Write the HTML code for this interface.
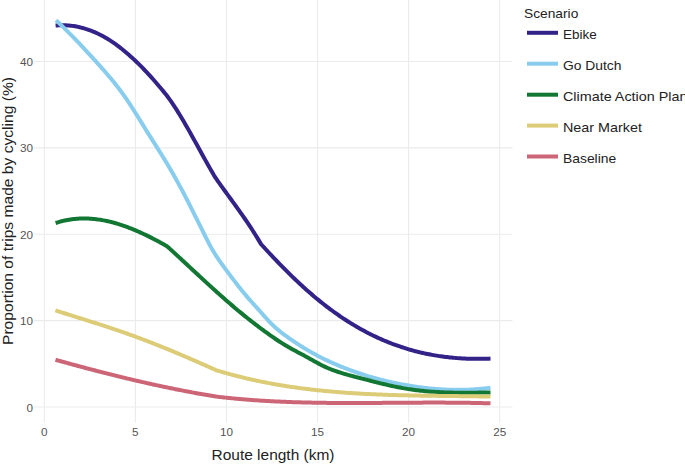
<!DOCTYPE html>
<html><head><meta charset="utf-8"><style>
html,body{margin:0;padding:0;background:#fff;}
body{width:685px;height:464px;overflow:hidden;}
svg{display:block;font-family:"Liberation Sans",sans-serif;}
</style></head><body>
<svg width="685" height="464" viewBox="0 0 685 464">
<rect width="685" height="464" fill="#fff"/>
<g stroke="#ebebeb" stroke-width="1.07" fill="none">
<line x1="44.30" y1="0.00" x2="44.30" y2="422.60"/>
<line x1="135.38" y1="0.00" x2="135.38" y2="422.60"/>
<line x1="226.46" y1="0.00" x2="226.46" y2="422.60"/>
<line x1="317.54" y1="0.00" x2="317.54" y2="422.60"/>
<line x1="408.62" y1="0.00" x2="408.62" y2="422.60"/>
<line x1="499.70" y1="0.00" x2="499.70" y2="422.60"/>
<line x1="34.00" y1="407.00" x2="512.50" y2="407.00"/>
<line x1="34.00" y1="320.62" x2="512.50" y2="320.62"/>
<line x1="34.00" y1="234.25" x2="512.50" y2="234.25"/>
<line x1="34.00" y1="147.88" x2="512.50" y2="147.88"/>
<line x1="34.00" y1="61.50" x2="512.50" y2="61.50"/>
</g>
<g fill="none" stroke-width="4.0" stroke-linejoin="round" stroke-linecap="butt">
<path d="M55.60,25.58 L57.10,25.46 L58.60,25.37 L60.10,25.31 L61.60,25.27 L63.10,25.27 L64.60,25.30 L66.10,25.35 L67.60,25.44 L69.10,25.56 L70.60,25.70 L72.10,25.88 L73.60,26.08 L75.10,26.32 L76.60,26.59 L78.10,26.88 L79.60,27.21 L81.10,27.57 L82.60,27.95 L84.10,28.37 L85.60,28.82 L87.10,29.30 L88.60,29.81 L90.10,30.35 L91.60,30.92 L93.10,31.52 L94.60,32.15 L96.10,32.81 L97.60,33.51 L99.10,34.23 L100.60,34.99 L102.10,35.77 L103.60,36.59 L105.10,37.44 L106.60,38.32 L108.10,39.23 L109.60,40.17 L111.10,41.15 L112.60,42.15 L114.10,43.18 L115.60,44.24 L117.10,45.33 L118.60,46.45 L120.10,47.60 L121.60,48.77 L123.10,49.97 L124.60,51.20 L126.10,52.46 L127.60,53.74 L129.10,55.05 L130.60,56.39 L132.10,57.75 L133.60,59.13 L135.10,60.54 L136.60,61.98 L138.10,63.44 L139.60,64.92 L141.10,66.43 L142.60,67.95 L144.10,69.51 L145.60,71.08 L147.10,72.68 L148.60,74.30 L150.10,75.94 L151.60,77.60 L153.10,79.28 L154.60,80.98 L156.10,82.70 L157.60,84.45 L159.10,86.21 L160.60,87.99 L162.10,89.79 L163.60,91.61 L165.10,93.44 L166.20,94.80 L167.70,96.77 L169.20,98.81 L170.70,100.92 L172.20,103.09 L173.70,105.32 L175.20,107.61 L176.70,109.95 L178.20,112.33 L179.70,114.76 L181.20,117.24 L182.70,119.75 L184.20,122.30 L185.70,124.89 L187.20,127.50 L188.70,130.13 L190.20,132.79 L191.70,135.47 L193.20,138.16 L194.70,140.87 L196.20,143.59 L197.70,146.31 L199.20,149.03 L200.70,151.75 L202.20,154.47 L203.70,157.18 L205.20,159.88 L206.70,162.56 L208.20,165.23 L209.70,167.87 L211.20,170.49 L212.70,173.09 L214.20,175.65 L215.00,177.00 L216.50,179.16 L218.00,181.30 L219.50,183.43 L221.00,185.54 L222.50,187.63 L224.00,189.71 L225.50,191.79 L227.00,193.85 L228.50,195.92 L230.00,197.98 L231.50,200.04 L233.00,202.10 L234.50,204.17 L236.00,206.25 L237.50,208.34 L239.00,210.44 L240.50,212.55 L242.00,214.68 L243.50,216.83 L245.00,219.00 L246.50,221.19 L248.00,223.42 L249.50,225.66 L251.00,227.94 L252.50,230.26 L254.00,232.61 L255.50,234.99 L257.00,237.42 L258.50,239.89 L260.00,242.40 L261.00,244.10 L262.50,245.74 L264.00,247.38 L265.50,249.01 L267.00,250.63 L268.50,252.25 L270.00,253.85 L271.50,255.45 L273.00,257.04 L274.50,258.62 L276.00,260.19 L277.50,261.75 L279.00,263.30 L280.50,264.84 L282.00,266.38 L283.50,267.90 L285.00,269.41 L286.50,270.91 L288.00,272.40 L289.50,273.88 L291.00,275.35 L292.50,276.81 L294.00,278.25 L295.50,279.69 L297.00,281.11 L298.50,282.52 L300.00,283.92 L301.50,285.31 L303.00,286.68 L304.50,288.04 L306.00,289.39 L307.50,290.72 L309.00,292.04 L310.50,293.35 L312.00,294.64 L313.50,295.92 L315.00,297.19 L316.50,298.44 L318.00,299.67 L319.50,300.90 L321.00,302.10 L322.50,303.30 L324.00,304.48 L325.50,305.64 L327.00,306.79 L328.50,307.93 L330.00,309.06 L331.50,310.16 L333.00,311.26 L334.50,312.34 L336.00,313.41 L337.50,314.46 L339.00,315.50 L340.50,316.53 L342.00,317.54 L343.50,318.54 L345.00,319.53 L346.50,320.50 L348.00,321.46 L349.50,322.40 L351.00,323.33 L352.50,324.25 L354.00,325.15 L355.50,326.04 L357.00,326.92 L358.50,327.79 L360.00,328.64 L361.50,329.47 L363.00,330.30 L364.50,331.11 L366.00,331.91 L367.50,332.69 L369.00,333.46 L370.50,334.22 L372.00,334.97 L373.50,335.70 L375.00,336.42 L376.50,337.12 L378.00,337.82 L379.50,338.50 L381.00,339.17 L382.50,339.82 L384.00,340.47 L385.50,341.10 L387.00,341.72 L388.50,342.32 L390.00,342.91 L391.50,343.50 L393.00,344.07 L394.50,344.62 L396.00,345.17 L397.50,345.70 L399.00,346.22 L400.50,346.73 L402.00,347.23 L403.50,347.72 L405.00,348.19 L406.50,348.66 L408.00,349.11 L409.50,349.55 L411.00,349.98 L412.50,350.40 L414.00,350.81 L415.50,351.20 L417.00,351.59 L418.50,351.96 L420.00,352.33 L421.50,352.68 L423.00,353.02 L424.50,353.36 L426.00,353.68 L427.50,353.99 L429.00,354.29 L430.50,354.58 L432.00,354.86 L433.50,355.13 L435.00,355.39 L436.50,355.64 L438.00,355.88 L439.50,356.11 L441.00,356.33 L442.50,356.54 L444.00,356.74 L445.50,356.93 L447.00,357.11 L448.50,357.29 L450.00,357.45 L451.50,357.60 L453.00,357.75 L454.50,357.88 L456.00,358.01 L457.50,358.13 L459.00,358.24 L460.50,358.34 L462.00,358.43 L463.50,358.51 L465.00,358.58 L466.50,358.65 L468.00,358.71 L469.50,358.75 L471.00,358.79 L472.50,358.83 L474.00,358.85 L475.50,358.86 L477.00,358.87 L478.50,358.87 L480.00,358.86 L481.50,358.85 L483.00,358.82 L484.50,358.79 L486.00,358.75 L487.50,358.70 L489.00,358.65 L490.50,358.59" stroke="#332288"/>
<path d="M56.00,20.20 L57.50,21.60 L59.00,23.03 L60.50,24.46 L62.00,25.91 L63.50,27.37 L65.00,28.85 L66.50,30.34 L68.00,31.84 L69.50,33.35 L71.00,34.88 L72.50,36.41 L74.00,37.95 L75.50,39.51 L77.00,41.07 L78.50,42.65 L80.00,44.23 L81.50,45.82 L83.00,47.42 L84.50,49.03 L86.00,50.65 L87.50,52.27 L89.00,53.90 L90.50,55.53 L92.00,57.17 L93.50,58.82 L95.00,60.47 L96.50,62.13 L98.00,63.79 L99.50,65.46 L101.00,67.13 L102.50,68.82 L104.00,70.52 L105.50,72.24 L107.00,73.98 L108.50,75.73 L110.00,77.51 L111.50,79.31 L113.00,81.14 L114.50,83.00 L116.00,84.88 L117.50,86.81 L119.00,88.76 L120.50,90.76 L122.00,92.79 L123.50,94.86 L125.00,96.98 L126.50,99.15 L128.00,101.36 L129.50,103.61 L131.00,105.91 L132.50,108.23 L134.00,110.59 L135.50,112.97 L137.00,115.36 L138.50,117.78 L140.00,120.21 L141.50,122.64 L143.00,125.08 L144.50,127.51 L146.00,129.94 L147.50,132.36 L149.00,134.76 L150.50,137.15 L152.00,139.53 L153.50,141.90 L155.00,144.27 L156.50,146.64 L158.00,149.01 L159.50,151.40 L161.00,153.79 L162.50,156.20 L164.00,158.63 L165.50,161.09 L167.00,163.57 L168.50,166.08 L170.00,168.63 L171.50,171.21 L173.00,173.82 L174.50,176.47 L176.00,179.15 L177.50,181.86 L179.00,184.61 L180.50,187.38 L182.00,190.18 L183.50,193.01 L185.00,195.88 L186.50,198.76 L188.00,201.68 L189.50,204.62 L191.00,207.58 L192.50,210.56 L194.00,213.56 L195.50,216.57 L197.00,219.59 L198.50,222.62 L200.00,225.65 L201.50,228.68 L203.00,231.71 L204.50,234.74 L206.00,237.75 L207.50,240.71 L209.00,243.60 L210.50,246.36 L212.00,249.01 L213.50,251.54 L215.00,253.97 L216.50,256.31 L218.00,258.58 L219.50,260.77 L221.00,262.91 L222.50,265.01 L224.00,267.07 L225.50,269.11 L227.00,271.14 L228.50,273.16 L230.00,275.17 L231.50,277.18 L233.00,279.17 L234.50,281.14 L236.00,283.09 L237.50,285.03 L239.00,286.95 L240.50,288.84 L242.00,290.70 L243.50,292.54 L245.00,294.34 L246.50,296.12 L248.00,297.85 L249.50,299.57 L251.00,301.25 L252.50,302.93 L254.00,304.59 L255.50,306.24 L257.00,307.90 L258.50,309.57 L260.00,311.25 L261.50,312.95 L263.00,314.65 L264.50,316.34 L266.00,318.02 L267.50,319.67 L269.00,321.28 L270.50,322.85 L272.00,324.36 L273.50,325.81 L275.00,327.20 L276.50,328.53 L278.00,329.81 L279.50,331.05 L281.00,332.25 L282.50,333.41 L284.00,334.54 L285.50,335.64 L287.00,336.73 L288.50,337.80 L290.00,338.86 L291.50,339.90 L293.00,340.93 L294.50,341.94 L296.00,342.94 L297.50,343.92 L299.00,344.89 L300.50,345.84 L302.00,346.78 L303.50,347.71 L305.00,348.62 L306.50,349.51 L308.00,350.39 L309.50,351.26 L311.00,352.12 L312.50,352.96 L314.00,353.78 L315.50,354.60 L317.00,355.40 L318.50,356.18 L320.00,356.96 L321.50,357.72 L323.00,358.47 L324.50,359.20 L326.00,359.93 L327.50,360.64 L329.00,361.34 L330.50,362.03 L332.00,362.71 L333.50,363.38 L335.00,364.03 L336.50,364.68 L338.00,365.32 L339.50,365.94 L341.00,366.56 L342.50,367.17 L344.00,367.76 L345.50,368.35 L347.00,368.93 L348.50,369.50 L350.00,370.06 L351.50,370.62 L353.00,371.16 L354.50,371.69 L356.00,372.22 L357.50,372.74 L359.00,373.25 L360.50,373.74 L362.00,374.24 L363.50,374.72 L365.00,375.19 L366.50,375.66 L368.00,376.11 L369.50,376.56 L371.00,377.00 L372.50,377.44 L374.00,377.86 L375.50,378.28 L377.00,378.69 L378.50,379.09 L380.00,379.48 L381.50,379.86 L383.00,380.24 L384.50,380.61 L386.00,380.97 L387.50,381.33 L389.00,381.67 L390.50,382.01 L392.00,382.35 L393.50,382.67 L395.00,382.99 L396.50,383.30 L398.00,383.60 L399.50,383.90 L401.00,384.19 L402.50,384.47 L404.00,384.75 L405.50,385.02 L407.00,385.28 L408.50,385.54 L410.00,385.79 L411.50,386.03 L413.00,386.26 L414.50,386.49 L416.00,386.71 L417.50,386.93 L419.00,387.13 L420.50,387.33 L422.00,387.53 L423.50,387.71 L425.00,387.89 L426.50,388.06 L428.00,388.22 L429.50,388.38 L431.00,388.53 L432.50,388.67 L434.00,388.80 L435.50,388.93 L437.00,389.04 L438.50,389.15 L440.00,389.25 L441.50,389.35 L443.00,389.43 L444.50,389.51 L446.00,389.58 L447.50,389.64 L449.00,389.70 L450.50,389.74 L452.00,389.78 L453.50,389.81 L455.00,389.83 L456.50,389.84 L458.00,389.85 L459.50,389.84 L461.00,389.83 L462.50,389.81 L464.00,389.78 L465.50,389.74 L467.00,389.69 L468.50,389.64 L470.00,389.57 L471.50,389.50 L473.00,389.42 L474.50,389.32 L476.00,389.22 L477.50,389.11 L479.00,388.99 L480.50,388.86 L482.00,388.73 L483.50,388.58 L485.00,388.42 L486.50,388.26 L488.00,388.08 L489.50,387.90 L490.50,387.77" stroke="#88CCEE"/>
<path d="M55.60,223.02 L57.10,222.54 L58.60,222.09 L60.10,221.66 L61.60,221.27 L63.10,220.90 L64.60,220.56 L66.10,220.25 L67.60,219.96 L69.10,219.70 L70.60,219.47 L72.10,219.26 L73.60,219.07 L75.10,218.92 L76.60,218.79 L78.10,218.68 L79.60,218.60 L81.10,218.54 L82.60,218.50 L84.10,218.49 L85.60,218.50 L87.10,218.54 L88.60,218.60 L90.10,218.68 L91.60,218.78 L93.10,218.91 L94.60,219.05 L96.10,219.22 L97.60,219.41 L99.10,219.62 L100.60,219.85 L102.10,220.10 L103.60,220.37 L105.10,220.66 L106.60,220.97 L108.10,221.30 L109.60,221.65 L111.10,222.02 L112.60,222.40 L114.10,222.80 L115.60,223.22 L117.10,223.66 L118.60,224.12 L120.10,224.59 L121.60,225.08 L123.10,225.58 L124.60,226.10 L126.10,226.64 L127.60,227.19 L129.10,227.76 L130.60,228.34 L132.10,228.94 L133.60,229.55 L135.10,230.17 L136.60,230.81 L138.10,231.47 L139.60,232.13 L141.10,232.81 L142.60,233.50 L144.10,234.21 L145.60,234.92 L147.10,235.65 L148.60,236.39 L150.10,237.14 L151.60,237.90 L153.10,238.67 L154.60,239.45 L156.10,240.25 L157.60,241.05 L159.10,241.86 L160.60,242.68 L162.10,243.51 L163.60,244.35 L165.10,245.20 L166.60,246.06 L167.20,246.40 L168.70,247.76 L170.20,249.13 L171.70,250.50 L173.20,251.87 L174.70,253.25 L176.20,254.63 L177.70,256.01 L179.20,257.39 L180.70,258.78 L182.20,260.17 L183.70,261.56 L185.20,262.95 L186.70,264.34 L188.20,265.73 L189.70,267.13 L191.20,268.52 L192.70,269.91 L194.20,271.31 L195.70,272.70 L197.20,274.09 L198.70,275.48 L200.20,276.86 L201.70,278.25 L203.20,279.63 L204.70,281.01 L206.20,282.39 L207.70,283.76 L209.20,285.14 L210.70,286.50 L212.20,287.87 L213.70,289.23 L215.20,290.58 L216.70,291.93 L218.20,293.28 L219.70,294.62 L221.20,295.95 L222.70,297.28 L224.20,298.60 L225.70,299.92 L227.20,301.23 L228.70,302.53 L230.20,303.82 L231.70,305.11 L233.20,306.39 L234.70,307.66 L236.20,308.92 L237.70,310.17 L239.20,311.42 L240.70,312.66 L242.20,313.89 L243.70,315.11 L245.20,316.32 L246.70,317.52 L248.20,318.72 L249.70,319.91 L251.20,321.08 L252.70,322.25 L254.20,323.42 L255.70,324.57 L257.20,325.71 L258.70,326.85 L260.20,327.98 L261.70,329.10 L263.20,330.21 L264.70,331.31 L266.20,332.40 L267.70,333.49 L269.20,334.56 L270.70,335.62 L272.20,336.67 L273.70,337.71 L275.20,338.73 L276.70,339.74 L278.20,340.73 L279.70,341.71 L281.20,342.67 L282.70,343.62 L284.20,344.55 L285.70,345.46 L287.20,346.34 L288.70,347.22 L290.20,348.07 L291.70,348.91 L293.20,349.74 L294.70,350.56 L296.20,351.36 L297.70,352.17 L299.20,352.97 L300.70,353.77 L302.20,354.56 L303.70,355.36 L305.20,356.17 L306.70,356.98 L308.20,357.80 L309.70,358.63 L311.20,359.47 L312.70,360.31 L314.20,361.15 L315.70,361.98 L317.20,362.81 L318.70,363.62 L320.20,364.42 L321.70,365.19 L323.20,365.94 L324.70,366.66 L326.20,367.35 L327.70,368.02 L329.20,368.65 L330.70,369.26 L332.20,369.85 L333.70,370.41 L335.20,370.96 L336.70,371.48 L338.20,371.98 L339.70,372.47 L341.20,372.94 L342.70,373.40 L344.20,373.84 L345.70,374.27 L347.20,374.69 L348.70,375.11 L350.20,375.51 L351.70,375.91 L353.20,376.30 L354.70,376.69 L356.20,377.08 L357.70,377.46 L359.20,377.85 L360.70,378.23 L362.20,378.62 L363.70,379.01 L365.20,379.40 L366.70,379.79 L368.20,380.18 L369.70,380.56 L371.20,380.95 L372.70,381.33 L374.20,381.72 L375.70,382.10 L377.20,382.47 L378.70,382.85 L380.20,383.22 L381.70,383.59 L383.20,383.95 L384.70,384.31 L386.20,384.66 L387.70,385.01 L389.20,385.35 L390.70,385.69 L392.20,386.02 L393.70,386.34 L395.20,386.66 L396.70,386.96 L398.20,387.27 L399.70,387.56 L401.20,387.84 L402.70,388.12 L404.20,388.38 L405.70,388.64 L407.20,388.89 L408.70,389.12 L410.20,389.35 L411.70,389.57 L413.20,389.78 L414.70,389.98 L416.20,390.17 L417.70,390.35 L419.20,390.53 L420.70,390.70 L422.20,390.85 L423.70,391.00 L425.20,391.15 L426.70,391.28 L428.20,391.41 L429.70,391.53 L431.20,391.65 L432.70,391.75 L434.20,391.85 L435.70,391.95 L437.20,392.03 L438.70,392.12 L440.20,392.19 L441.70,392.26 L443.20,392.32 L444.70,392.38 L446.20,392.44 L447.70,392.48 L449.20,392.53 L450.70,392.57 L452.20,392.60 L453.70,392.63 L455.20,392.65 L456.70,392.67 L458.20,392.69 L459.70,392.70 L461.20,392.71 L462.70,392.72 L464.20,392.72 L465.70,392.72 L467.20,392.72 L468.70,392.71 L470.20,392.70 L471.70,392.69 L473.20,392.68 L474.70,392.66 L476.20,392.65 L477.70,392.63 L479.20,392.61 L480.70,392.59 L482.20,392.56 L483.70,392.54 L485.20,392.51 L486.70,392.49 L488.20,392.46 L489.70,392.44 L490.50,392.42" stroke="#117733"/>
<path d="M55.40,310.36 L56.90,310.85 L58.40,311.34 L59.90,311.83 L61.40,312.31 L62.90,312.79 L64.40,313.27 L65.90,313.75 L67.40,314.23 L68.90,314.71 L70.40,315.18 L71.90,315.66 L73.40,316.13 L74.90,316.60 L76.40,317.08 L77.90,317.55 L79.40,318.02 L80.90,318.49 L82.40,318.97 L83.90,319.44 L85.40,319.91 L86.90,320.38 L88.40,320.86 L89.90,321.33 L91.40,321.80 L92.90,322.28 L94.40,322.76 L95.90,323.23 L97.40,323.71 L98.90,324.19 L100.40,324.67 L101.90,325.16 L103.40,325.64 L104.90,326.13 L106.40,326.62 L107.90,327.11 L109.40,327.60 L110.90,328.10 L112.40,328.60 L113.90,329.10 L115.40,329.60 L116.90,330.11 L118.40,330.62 L119.90,331.13 L121.40,331.65 L122.90,332.17 L124.40,332.69 L125.90,333.22 L127.40,333.75 L128.90,334.29 L130.40,334.82 L131.90,335.37 L133.40,335.91 L134.90,336.46 L136.40,337.01 L137.90,337.57 L139.40,338.13 L140.90,338.69 L142.40,339.25 L143.90,339.82 L145.40,340.40 L146.90,340.97 L148.40,341.55 L149.90,342.13 L151.40,342.71 L152.90,343.30 L154.40,343.89 L155.90,344.49 L157.40,345.08 L158.90,345.68 L160.40,346.28 L161.90,346.89 L163.40,347.49 L164.90,348.10 L166.40,348.71 L167.90,349.33 L169.40,349.95 L170.90,350.57 L172.40,351.19 L173.90,351.81 L175.40,352.44 L176.90,353.07 L178.40,353.70 L179.90,354.33 L181.40,354.97 L182.90,355.61 L184.40,356.25 L185.90,356.89 L187.40,357.53 L188.90,358.18 L190.40,358.83 L191.90,359.47 L193.40,360.13 L194.90,360.78 L196.40,361.43 L197.90,362.09 L199.40,362.75 L200.90,363.41 L202.40,364.07 L203.90,364.73 L205.40,365.39 L206.90,366.06 L208.40,366.73 L209.90,367.39 L211.40,368.06 L212.90,368.73 L214.40,369.40 L215.90,370.08 L216.40,370.30 L217.90,370.76 L219.40,371.20 L220.90,371.65 L222.40,372.08 L223.90,372.52 L225.40,372.94 L226.90,373.36 L228.40,373.78 L229.90,374.19 L231.40,374.60 L232.90,375.00 L234.40,375.39 L235.90,375.78 L237.40,376.17 L238.90,376.55 L240.40,376.92 L241.90,377.29 L243.40,377.65 L244.90,378.01 L246.40,378.37 L247.90,378.72 L249.40,379.06 L250.90,379.40 L252.40,379.74 L253.90,380.07 L255.40,380.39 L256.90,380.72 L258.40,381.03 L259.90,381.34 L261.40,381.65 L262.90,381.95 L264.40,382.25 L265.90,382.55 L267.40,382.84 L268.90,383.12 L270.40,383.40 L271.90,383.68 L273.40,383.95 L274.90,384.22 L276.40,384.48 L277.90,384.74 L279.40,385.00 L280.90,385.25 L282.40,385.50 L283.90,385.74 L285.40,385.98 L286.90,386.21 L288.40,386.44 L289.90,386.67 L291.40,386.90 L292.90,387.12 L294.40,387.33 L295.90,387.54 L297.40,387.75 L298.90,387.96 L300.40,388.16 L301.90,388.36 L303.40,388.55 L304.90,388.74 L306.40,388.93 L307.90,389.11 L309.40,389.29 L310.90,389.47 L312.40,389.64 L313.90,389.81 L315.40,389.98 L316.90,390.14 L318.40,390.30 L319.90,390.46 L321.40,390.61 L322.90,390.77 L324.40,390.91 L325.90,391.06 L327.40,391.20 L328.90,391.34 L330.40,391.47 L331.90,391.61 L333.40,391.74 L334.90,391.87 L336.40,391.99 L337.90,392.11 L339.40,392.23 L340.90,392.35 L342.40,392.46 L343.90,392.57 L345.40,392.68 L346.90,392.79 L348.40,392.89 L349.90,392.99 L351.40,393.09 L352.90,393.19 L354.40,393.28 L355.90,393.37 L357.40,393.46 L358.90,393.55 L360.40,393.64 L361.90,393.72 L363.40,393.80 L364.90,393.88 L366.40,393.95 L367.90,394.03 L369.40,394.10 L370.90,394.17 L372.40,394.24 L373.90,394.31 L375.40,394.37 L376.90,394.43 L378.40,394.50 L379.90,394.55 L381.40,394.61 L382.90,394.67 L384.40,394.72 L385.90,394.78 L387.40,394.83 L388.90,394.88 L390.40,394.92 L391.90,394.97 L393.40,395.02 L394.90,395.06 L396.40,395.10 L397.90,395.14 L399.40,395.18 L400.90,395.22 L402.40,395.26 L403.90,395.30 L405.40,395.33 L406.90,395.37 L408.40,395.40 L409.90,395.43 L411.40,395.46 L412.90,395.49 L414.40,395.52 L415.90,395.55 L417.40,395.58 L418.90,395.60 L420.40,395.63 L421.90,395.65 L423.40,395.68 L424.90,395.70 L426.40,395.72 L427.90,395.75 L429.40,395.77 L430.90,395.79 L432.40,395.81 L433.90,395.83 L435.40,395.85 L436.90,395.87 L438.40,395.89 L439.90,395.91 L441.40,395.92 L442.90,395.94 L444.40,395.96 L445.90,395.98 L447.40,396.00 L448.90,396.01 L450.40,396.03 L451.90,396.05 L453.40,396.07 L454.90,396.08 L456.40,396.10 L457.90,396.12 L459.40,396.14 L460.90,396.15 L462.40,396.17 L463.90,396.19 L465.40,396.21 L466.90,396.23 L468.40,396.25 L469.90,396.27 L471.40,396.29 L472.90,396.31 L474.40,396.33 L475.90,396.35 L477.40,396.37 L478.90,396.39 L480.40,396.42 L481.90,396.44 L483.40,396.46 L484.90,396.49 L486.40,396.52 L487.90,396.54 L489.40,396.57 L490.50,396.59" stroke="#DDCC77"/>
<path d="M55.50,359.79 L57.00,360.21 L58.50,360.63 L60.00,361.04 L61.50,361.46 L63.00,361.87 L64.50,362.28 L66.00,362.69 L67.50,363.10 L69.00,363.51 L70.50,363.92 L72.00,364.33 L73.50,364.74 L75.00,365.14 L76.50,365.55 L78.00,365.95 L79.50,366.35 L81.00,366.75 L82.50,367.15 L84.00,367.55 L85.50,367.95 L87.00,368.35 L88.50,368.74 L90.00,369.14 L91.50,369.53 L93.00,369.92 L94.50,370.31 L96.00,370.70 L97.50,371.09 L99.00,371.48 L100.50,371.86 L102.00,372.25 L103.50,372.63 L105.00,373.01 L106.50,373.39 L108.00,373.77 L109.50,374.15 L111.00,374.52 L112.50,374.90 L114.00,375.27 L115.50,375.64 L117.00,376.01 L118.50,376.38 L120.00,376.75 L121.50,377.12 L123.00,377.48 L124.50,377.84 L126.00,378.21 L127.50,378.57 L129.00,378.92 L130.50,379.28 L132.00,379.64 L133.50,379.99 L135.00,380.34 L136.50,380.69 L138.00,381.04 L139.50,381.39 L141.00,381.73 L142.50,382.08 L144.00,382.42 L145.50,382.76 L147.00,383.10 L148.50,383.43 L150.00,383.77 L151.50,384.10 L153.00,384.43 L154.50,384.76 L156.00,385.09 L157.50,385.42 L159.00,385.74 L160.50,386.06 L162.00,386.38 L163.50,386.70 L165.00,387.02 L166.50,387.33 L168.00,387.64 L169.50,387.95 L171.00,388.26 L172.50,388.57 L174.00,388.87 L175.50,389.18 L177.00,389.48 L178.50,389.78 L180.00,390.07 L181.50,390.37 L183.00,390.66 L184.50,390.95 L186.00,391.24 L187.50,391.52 L189.00,391.81 L190.50,392.09 L192.00,392.37 L193.50,392.65 L195.00,392.92 L196.50,393.20 L198.00,393.47 L199.50,393.73 L201.00,394.00 L202.50,394.26 L204.00,394.53 L205.50,394.79 L207.00,395.04 L208.50,395.30 L210.00,395.55 L211.50,395.80 L213.00,396.05 L214.50,396.29 L216.00,396.54 L216.40,396.60 L217.90,396.78 L219.40,396.95 L220.90,397.12 L222.40,397.29 L223.90,397.46 L225.40,397.62 L226.90,397.78 L228.40,397.93 L229.90,398.08 L231.40,398.23 L232.90,398.38 L234.40,398.52 L235.90,398.67 L237.40,398.80 L238.90,398.94 L240.40,399.07 L241.90,399.20 L243.40,399.33 L244.90,399.45 L246.40,399.57 L247.90,399.69 L249.40,399.81 L250.90,399.92 L252.40,400.03 L253.90,400.14 L255.40,400.24 L256.90,400.35 L258.40,400.45 L259.90,400.55 L261.40,400.64 L262.90,400.74 L264.40,400.83 L265.90,400.92 L267.40,401.00 L268.90,401.09 L270.40,401.17 L271.90,401.25 L273.40,401.33 L274.90,401.40 L276.40,401.47 L277.90,401.55 L279.40,401.61 L280.90,401.68 L282.40,401.75 L283.90,401.81 L285.40,401.87 L286.90,401.93 L288.40,401.98 L289.90,402.04 L291.40,402.09 L292.90,402.14 L294.40,402.19 L295.90,402.24 L297.40,402.29 L298.90,402.33 L300.40,402.37 L301.90,402.41 L303.40,402.45 L304.90,402.49 L306.40,402.53 L307.90,402.56 L309.40,402.59 L310.90,402.62 L312.40,402.65 L313.90,402.68 L315.40,402.71 L316.90,402.73 L318.40,402.76 L319.90,402.78 L321.40,402.80 L322.90,402.82 L324.40,402.84 L325.90,402.86 L327.40,402.88 L328.90,402.89 L330.40,402.90 L331.90,402.92 L333.40,402.93 L334.90,402.94 L336.40,402.95 L337.90,402.96 L339.40,402.96 L340.90,402.97 L342.40,402.98 L343.90,402.98 L345.40,402.98 L346.90,402.99 L348.40,402.99 L349.90,402.99 L351.40,402.99 L352.90,402.99 L354.40,402.99 L355.90,402.99 L357.40,402.99 L358.90,402.98 L360.40,402.98 L361.90,402.97 L363.40,402.97 L364.90,402.96 L366.40,402.96 L367.90,402.95 L369.40,402.94 L370.90,402.94 L372.40,402.93 L373.90,402.92 L375.40,402.91 L376.90,402.90 L378.40,402.90 L379.90,402.89 L381.40,402.88 L382.90,402.87 L384.40,402.86 L385.90,402.85 L387.40,402.84 L388.90,402.83 L390.40,402.82 L391.90,402.81 L393.40,402.79 L394.90,402.78 L396.40,402.77 L397.90,402.76 L399.40,402.75 L400.90,402.74 L402.40,402.73 L403.90,402.72 L405.40,402.71 L406.90,402.70 L408.40,402.69 L409.90,402.69 L411.40,402.68 L412.90,402.67 L414.40,402.66 L415.90,402.65 L417.40,402.65 L418.90,402.64 L420.40,402.63 L421.90,402.63 L423.40,402.62 L424.90,402.62 L426.40,402.61 L427.90,402.61 L429.40,402.61 L430.90,402.61 L432.40,402.60 L433.90,402.60 L435.40,402.60 L436.90,402.60 L438.40,402.61 L439.90,402.61 L441.40,402.61 L442.90,402.62 L444.40,402.62 L445.90,402.63 L447.40,402.63 L448.90,402.64 L450.40,402.65 L451.90,402.66 L453.40,402.67 L454.90,402.68 L456.40,402.70 L457.90,402.71 L459.40,402.73 L460.90,402.75 L462.40,402.76 L463.90,402.78 L465.40,402.80 L466.90,402.83 L468.40,402.85 L469.90,402.87 L471.40,402.90 L472.90,402.93 L474.40,402.96 L475.90,402.99 L477.40,403.02 L478.90,403.05 L480.40,403.09 L481.90,403.12 L483.40,403.16 L484.90,403.20 L486.40,403.24 L487.90,403.29 L489.40,403.33 L490.50,403.37" stroke="#CC6677"/>
</g>
<g font-size="11.7" fill="#555">
<text x="33" y="411.60" text-anchor="end">0</text>
<text x="33" y="325.23" text-anchor="end">10</text>
<text x="33" y="238.85" text-anchor="end">20</text>
<text x="33" y="152.47" text-anchor="end">30</text>
<text x="33" y="66.10" text-anchor="end">40</text>
<text x="44.30" y="436" text-anchor="middle">0</text>
<text x="135.38" y="436" text-anchor="middle">5</text>
<text x="226.46" y="436" text-anchor="middle">10</text>
<text x="317.54" y="436" text-anchor="middle">15</text>
<text x="408.62" y="436" text-anchor="middle">20</text>
<text x="499.70" y="436" text-anchor="middle">25</text>
</g>
<text x="273" y="459.7" text-anchor="middle" font-size="15.2" fill="#222" textLength="123" lengthAdjust="spacingAndGlyphs">Route length (km)</text>
<text transform="translate(12.7,211) rotate(-90)" x="0" y="0" text-anchor="middle" font-size="15.2" fill="#222" textLength="268" lengthAdjust="spacingAndGlyphs">Proportion of trips made by cycling (%)</text>
<text x="524" y="17.7" font-size="13.5" fill="#222" textLength="54.3" lengthAdjust="spacingAndGlyphs">Scenario</text>
<g stroke-width="4" fill="none">
<line x1="527" y1="32.8" x2="558" y2="32.8" stroke="#332288"/>
<line x1="527" y1="63.7" x2="558" y2="63.7" stroke="#88CCEE"/>
<line x1="527" y1="94.7" x2="558" y2="94.7" stroke="#117733"/>
<line x1="527" y1="125.6" x2="558" y2="125.6" stroke="#DDCC77"/>
<line x1="527" y1="156.5" x2="558" y2="156.5" stroke="#CC6677"/>
</g>
<g font-size="13.5" fill="#222">
<text x="563" y="38.9" textLength="33.7" lengthAdjust="spacingAndGlyphs">Ebike</text>
<text x="563" y="69.8" textLength="58.5" lengthAdjust="spacingAndGlyphs">Go Dutch</text>
<text x="563" y="100.8" textLength="124.5" lengthAdjust="spacingAndGlyphs">Climate Action Plan</text>
<text x="563" y="131.7" textLength="78.9" lengthAdjust="spacingAndGlyphs">Near Market</text>
<text x="563" y="162.6" textLength="53.2" lengthAdjust="spacingAndGlyphs">Baseline</text>
</g>
</svg>
</body></html>
